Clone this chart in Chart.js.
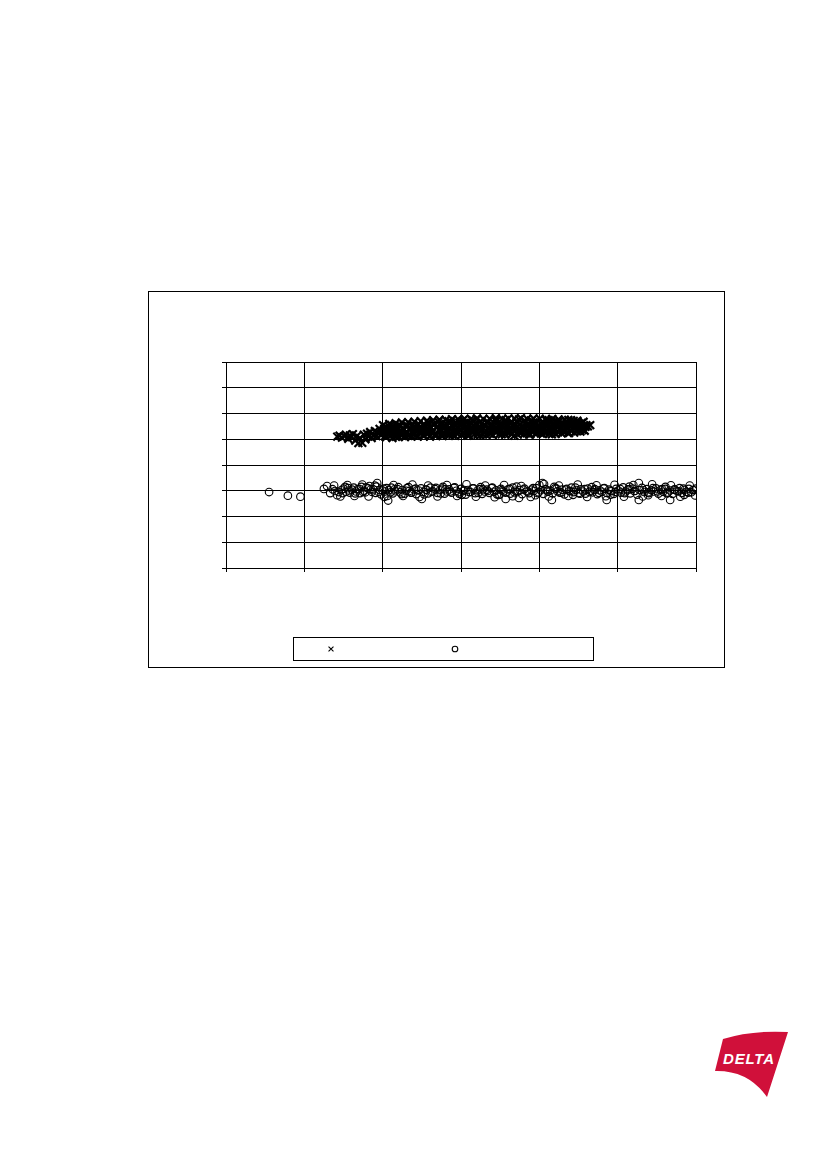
<!DOCTYPE html>
<html>
<head>
<meta charset="utf-8">
<script src="https://cdn.jsdelivr.net/npm/chart.js@4/dist/chart.umd.min.js"></script>
<style>
  html, body { margin: 0; padding: 0; background: #fff; }
  body { width: 827px; height: 1169px; position: relative; overflow: hidden; font-family: "Liberation Sans", Arial, sans-serif; }
  #box { position: absolute; left: 148px; top: 291px; width: 575px; height: 375px; border: 1px solid #000; }
  #logo { position: absolute; left: 700px; top: 1020px; }
</style>
</head>
<body>
<div id="box"><canvas id="scatter" width="575" height="375"></canvas></div>

<svg id="logo" width="100" height="90" viewBox="700 1020 100 90">
  <path d="M723,1039 Q752,1030 788,1032 L767,1097 Q748,1070 715,1071 Z" fill="#d0103a"/>
  <text x="723" y="1064" fill="#fff" font-family="Liberation Sans, Arial, sans-serif" font-size="15" font-weight="bold" font-style="italic" letter-spacing="0.8">DELTA</text>
</svg>

<script>
"use strict";

// x 系列 (叉叉) - 左邊稀疏那一段
const crossX = [
  1.42,1.45,1.48,1.51,1.53,1.56,1.58,1.60,1.62,1.65,1.67,1.69,1.71,1.74,1.76,1.78,1.80,1.82,1.84,1.86,1.88,1.90,1.92,1.94,1.96,1.98,
  // pass A
  2.00,2.02,2.04,2.06,2.08,2.10,2.12,2.14,2.16,2.18,2.20,2.22,2.24,2.26,2.28,2.30,2.32,2.34,2.36,2.38,2.40,2.42,2.44,2.46,2.48,
  2.50,2.52,2.54,2.56,2.58,2.60,2.62,2.64,2.66,2.68,2.70,2.72,2.74,2.76,2.78,2.80,2.82,2.84,2.86,2.88,2.90,2.92,2.94,2.96,2.98,
  3.00,3.02,3.04,3.06,3.08,3.10,3.12,3.14,3.16,3.18,3.20,3.22,3.24,3.26,3.28,3.30,3.32,3.34,3.36,3.38,3.40,3.42,3.44,3.46,3.48,
  3.50,3.52,3.54,3.56,3.58,3.60,3.62,3.64,3.66,3.68,3.70,3.72,3.74,3.76,3.78,3.80,3.82,3.84,3.86,3.88,3.90,3.92,3.94,3.96,3.98,
  4.00,4.02,4.04,4.06,4.08,4.10,4.12,4.14,4.16,4.18,4.20,4.22,4.24,4.26,4.28,4.30,4.32,4.34,4.36,4.38,4.40,4.42,4.44,4.46,4.48,
  4.50,4.52,4.54,4.56,4.58,4.60,
  // pass B
  2.01,2.03,2.05,2.07,2.09,2.11,2.13,2.15,2.17,2.19,2.21,2.23,2.25,2.27,2.29,2.31,2.33,2.35,2.37,2.39,2.41,2.43,2.45,2.47,2.49,
  2.51,2.53,2.55,2.57,2.59,2.61,2.63,2.65,2.67,2.69,2.71,2.73,2.75,2.77,2.79,2.81,2.83,2.85,2.87,2.89,2.91,2.93,2.95,2.97,2.99,
  3.01,3.03,3.05,3.07,3.09,3.11,3.13,3.15,3.17,3.19,3.21,3.23,3.25,3.27,3.29,3.31,3.33,3.35,3.37,3.39,3.41,3.43,3.45,3.47,3.49,
  3.51,3.53,3.55,3.57,3.59,3.61,3.63,3.65,3.67,3.69,3.71,3.73,3.75,3.77,3.79,3.81,3.83,3.85,3.87,3.89,3.91,3.93,3.95,3.97,3.99,
  4.01,4.03,4.05,4.07,4.09,4.11,4.13,4.15,4.17,4.19,4.21,4.23,4.25,4.27,4.29,4.31,4.33,4.35,4.37,4.39,4.41,4.43,4.45,4.47,4.49,
  4.51,4.53,4.55,4.57,4.59,
  4.62,4.65,
  // pass C (上下邊緣)
  2.005,2.045,2.085,2.125,2.165,2.205,2.245,2.285,2.325,2.365,2.405,2.445,2.485,2.525,2.565,2.605,2.645,2.685,2.725,2.765,
  2.805,2.845,2.885,2.925,2.965,3.005,3.045,3.085,3.125,3.165,3.205,3.245,3.285,3.325,3.365,3.405,3.445,3.485,3.525,3.565,
  3.605,3.645,3.685,3.725,3.765,3.805,3.845,3.885,3.925,3.965,4.005,4.045,4.085,4.125,4.165,4.205,4.245,4.285,4.325,4.365,
  4.405,4.445,4.485,4.525,4.565
]
const crossY = [
  5.10,5.14,5.06,5.12,5.18,5.02,5.15,5.08,5.20,4.95,5.12,4.85,5.05,4.86,5.18,5.00,5.22,5.10,5.28,5.05,5.15,5.32,5.12,5.24,5.40,5.18,
  5.22,5.41,5.08,5.33,5.50,5.15,5.28,5.46,5.12,5.37,5.55,5.20,5.31,5.44,5.10,5.27,5.52,5.18,5.39,5.25,5.48,5.14,5.35,5.58,5.23,
  5.40,5.18,5.55,5.29,5.66,5.12,5.45,5.33,5.60,5.21,5.50,5.38,5.16,5.63,5.27,5.47,5.35,5.70,5.19,5.52,5.30,5.58,5.24,5.43,5.65,
  5.36,5.72,5.20,5.50,5.42,5.15,5.63,5.31,5.55,5.47,5.78,5.25,5.40,5.60,5.18,5.52,5.34,5.68,5.44,5.22,5.57,5.38,5.75,5.29,5.49,
  5.61,5.19,5.45,5.70,5.33,5.53,5.26,5.66,5.41,5.14,5.58,5.48,5.77,5.30,5.51,5.37,5.64,5.23,5.55,5.43,5.72,5.28,5.46,5.60,5.35,
  5.50,5.22,5.68,5.40,5.56,5.30,5.74,5.45,5.19,5.62,5.36,5.52,5.27,5.70,5.44,5.58,5.33,5.48,5.65,5.24,5.54,5.39,5.71,5.46,5.31,
  5.58,5.38,5.63,5.47,5.33,5.55,
  5.35,5.12,5.47,5.26,5.40,5.56,5.19,5.32,5.09,5.44,5.29,5.52,5.16,5.38,5.24,5.49,5.13,5.42,5.30,5.57,5.21,5.36,5.11,5.45,5.33,
  5.28,5.51,5.36,5.20,5.62,5.42,5.25,5.57,5.14,5.48,5.68,5.32,5.54,5.22,5.44,5.60,5.26,5.39,5.67,5.17,5.46,5.35,5.61,5.29,5.53,
  5.58,5.28,5.46,5.66,5.24,5.53,5.39,5.74,5.33,5.61,5.17,5.45,5.70,5.36,5.56,5.27,5.64,5.42,5.21,5.59,5.48,5.31,5.69,5.40,5.54,
  5.38,5.56,5.27,5.74,5.49,5.35,5.62,5.20,5.52,5.43,5.68,5.31,5.57,5.25,5.47,5.73,5.40,5.59,5.18,5.50,5.34,5.66,5.44,5.29,5.55,
  5.36,5.61,5.47,5.26,5.72,5.53,5.34,5.64,5.43,5.55,5.21,5.69,5.49,5.37,5.60,5.28,5.57,5.42,5.75,5.51,5.32,5.63,5.45,5.56,5.66,
  5.44,5.60,5.36,5.52,5.48,
  5.50,5.55,
  5.55,5.08,5.60,5.05,5.62,5.10,5.65,5.08,5.66,5.12,5.68,5.10,5.70,5.12,5.72,5.10,5.74,5.14,5.76,5.12,
  5.75,5.15,5.78,5.13,5.77,5.16,5.80,5.14,5.78,5.17,5.81,5.15,5.79,5.18,5.80,5.16,5.82,5.19,5.79,5.17,
  5.81,5.20,5.80,5.18,5.82,5.21,5.79,5.19,5.81,5.22,5.80,5.20,5.78,5.22,5.79,5.21,5.77,5.23,5.76,5.24,
  5.74,5.26,5.72,5.30,5.68
]

// o 系列 (圓圈)
const circleX = [
  0.55,0.79,0.95,1.25,1.29,1.33,1.42,
  1.44,1.47,1.50,1.53,1.56,1.58,1.61,1.63,1.66,1.68,1.71,1.73,1.76,1.78,1.81,1.83,1.86,1.88,1.91,1.93,1.96,1.98,
  2.01,2.03,2.06,2.08,2.11,2.13,2.16,2.19,2.22,2.25,2.28,2.31,2.34,2.37,2.40,2.43,2.46,2.49,2.52,2.55,2.58,2.61,2.64,2.67,2.70,
  2.73,2.76,2.79,2.82,2.85,2.88,2.91,2.94,2.97,3.00,3.03,3.06,3.09,3.12,3.15,3.18,3.21,3.24,3.27,3.30,3.33,3.36,3.39,3.42,3.45,
  3.48,3.51,3.54,3.57,3.60,3.63,3.66,3.69,3.72,3.75,3.78,3.81,3.84,3.87,3.90,3.93,3.96,3.99,4.02,4.05,4.08,4.11,4.14,4.17,4.20,
  4.23,4.26,4.29,4.32,4.35,4.38,4.41,4.44,4.47,4.50,4.53,4.56,4.59,4.62,4.65,4.68,4.71,4.74,4.77,4.80,4.83,4.86,4.89,4.92,4.95,
  4.98,5.01,5.04,5.07,5.10,5.13,5.16,5.19,5.22,5.25,5.28,5.31,5.34,5.37,5.40,5.43,5.46,5.49,5.52,5.55,5.58,5.61,5.64,5.67,5.70,
  5.73,5.76,5.79,5.82,5.85,5.88,5.91,5.94,5.97,6.00,
  // 第二批
  1.36,1.39,1.49,1.52,1.57,1.65,1.70,1.75,1.79,1.85,1.92,1.95,2.00,2.05,2.07,2.10,2.15,2.20,2.24,2.30,2.36,2.42,2.50,2.56,2.62,
  2.68,2.74,2.80,2.86,2.92,2.98,3.04,3.10,3.16,3.22,3.28,3.34,3.40,3.46,3.52,3.57,3.62,3.68,3.74,3.80,3.86,3.92,3.98,4.04,4.06,
  4.10,4.16,4.22,4.28,4.34,4.40,4.46,4.52,4.58,4.64,4.70,4.76,4.82,4.86,4.91,4.97,5.03,5.09,5.15,5.21,5.27,5.27,5.33,5.39,5.45,
  5.51,5.57,5.63,5.67,5.72,5.78,5.84,5.90,5.96,
  // 第三批 (散得比較開的)
  1.38,1.46,1.55,1.64,1.74,1.82,1.90,2.02,2.14,2.26,2.38,2.47,2.58,2.70,2.82,2.95,3.07,3.19,3.31,3.43,3.55,3.66,3.77,3.89,
  4.00,4.12,4.25,4.37,4.49,4.61,4.73,4.85,4.96,5.08,5.20,5.32,5.44,5.56,5.68,5.80,5.92,5.99,
  2.33,2.53,2.77,3.01,3.25,3.49,3.71,3.95,4.19,4.43,4.67,4.91,5.15,5.39,5.61,5.85
]
const circleY = [
  2.95,2.81,2.77,3.07,3.18,2.91,2.83,
  2.95,3.02,3.08,2.96,3.10,2.93,3.04,3.12,2.97,3.06,2.91,3.15,3.00,2.94,3.09,3.18,2.96,3.05,2.92,3.30,3.03,2.86,
  3.08,2.97,2.80,3.02,3.12,2.90,2.98,3.06,2.94,3.03,2.89,3.10,2.99,2.93,3.05,2.87,3.01,3.09,2.95,3.04,2.90,3.12,2.98,3.06,2.92,
  3.02,3.08,2.89,2.97,3.05,2.93,3.11,3.00,2.94,3.07,2.99,2.85,3.03,2.95,3.09,2.91,3.01,3.06,2.88,2.97,3.04,2.92,3.10,2.96,3.02,
  2.84,3.07,2.98,2.93,3.05,2.89,3.12,3.00,2.95,3.03,2.87,3.08,2.97,2.91,3.04,2.99,3.10,2.94,3.02,2.88,3.06,2.96,3.01,2.90,3.09,
  2.98,2.93,3.04,2.86,3.07,2.99,3.12,2.95,3.03,2.91,3.05,2.97,2.89,3.08,3.00,2.94,3.06,2.87,3.02,2.96,3.10,2.92,3.04,2.98,2.88,
  3.07,3.01,2.93,3.13,2.97,3.05,2.90,3.08,2.99,2.85,3.03,3.11,2.95,3.06,2.91,3.02,2.97,3.09,2.89,3.04,2.96,3.07,2.93,3.01,2.88,
  3.05,2.98,3.10,2.92,3.03,2.96,3.07,2.94,3.02,3.08,
  3.06,2.99,2.91,3.15,3.01,2.90,3.07,2.95,3.13,3.06,3.16,2.95,3.01,3.10,2.62,2.94,3.05,3.14,2.87,3.00,2.93,3.08,2.68,3.04,2.96,
  3.11,2.90,3.06,2.97,3.13,2.88,3.03,2.95,3.09,2.92,3.05,2.99,3.12,2.86,3.02,2.68,3.07,2.94,2.72,3.04,2.97,3.10,2.91,3.30,3.26,
  3.01,2.64,3.08,2.93,3.04,2.98,3.12,2.89,3.06,2.95,3.03,2.92,3.09,2.64,3.00,2.96,3.07,2.91,3.05,2.99,3.30,2.64,3.02,2.94,3.10,
  2.97,3.06,2.90,2.64,3.04,2.98,3.08,2.93,3.03,
  3.20,2.78,3.22,2.80,3.24,2.78,3.20,2.76,3.22,2.80,3.24,2.76,3.20,2.78,3.22,2.80,3.25,2.77,3.20,2.75,3.22,2.79,3.18,2.76,
  3.22,2.78,3.20,2.80,3.24,2.76,3.21,2.79,3.23,2.77,3.22,2.78,3.25,2.80,3.21,2.77,3.20,2.82,
  3.14,2.86,3.15,2.84,3.14,2.85,3.16,2.83,3.15,2.84,3.14,2.85,3.16,2.83,3.15,2.84
]

// 座標軸範圍
const xMin = 0, xMax = 6, xStep = 1
const yMin = 0, yMax = 8, yStep = 1

const crossData = crossX.map((x, i) => ({ x: x, y: crossY[i] }))
const circleData = circleX.map((x, i) => ({ x: x, y: circleY[i] }))

// 圖例外框 (原圖的 legend 沒有文字, 只有框和兩個符號)
const legendBox = {
  id: 'legendBox',
  afterDraw(chart) {
    const ctx = chart.ctx
    ctx.save()
    ctx.strokeStyle = '#000'
    ctx.lineWidth = 1
    ctx.strokeRect(144.5, 345.5, 300, 23)
    const marks = [
      { ds: chart.data.datasets[0], x: 182, r: 3.5 },
      { ds: chart.data.datasets[1], x: 306, r: 2.8 }
    ]
    marks.forEach(m => {
      ctx.strokeStyle = '#000'
      ctx.fillStyle = 'rgba(0,0,0,0)'
      ctx.lineWidth = 1.1
      Chart.helpers.drawPoint(ctx, { pointStyle: m.ds.pointStyle, radius: m.r, rotation: 0, borderWidth: 1.1 }, m.x, 357)
    })
    ctx.restore()
  }
}

const canvas = document.getElementById('scatter')
new Chart(canvas, {
  type: 'scatter',
  data: {
    datasets: [
      {
        label: '',
        data: crossData,
        pointStyle: 'crossRot',
        pointRadius: 5.5,
        borderColor: '#000',
        backgroundColor: '#000',
        borderWidth: 2.2
      },
      {
        label: '',
        data: circleData,
        pointStyle: 'circle',
        pointRadius: 3.8,
        borderColor: '#000',
        backgroundColor: 'rgba(0,0,0,0)',
        borderWidth: 1.1
      }
    ]
  },
  options: {
    responsive: false,
    animation: false,
    layout: { padding: { left: 73, right: 28, top: 70, bottom: 95 } },
    plugins: {
      legend: { display: false },
      tooltip: { enabled: false }
    },
    scales: {
      x: {
        type: 'linear',
        min: xMin, max: xMax,
        ticks: { display: false, stepSize: xStep },
        grid: { color: '#000', lineWidth: 1, tickLength: 4 },
        border: { display: true, color: '#000', width: 1 }
      },
      y: {
        type: 'linear',
        min: yMin, max: yMax,
        ticks: { display: false, stepSize: yStep },
        grid: { color: '#000', lineWidth: 1, tickLength: 4 },
        border: { display: true, color: '#000', width: 1 }
      }
    }
  },
  plugins: [legendBox]
})
</script>
</body>
</html>
